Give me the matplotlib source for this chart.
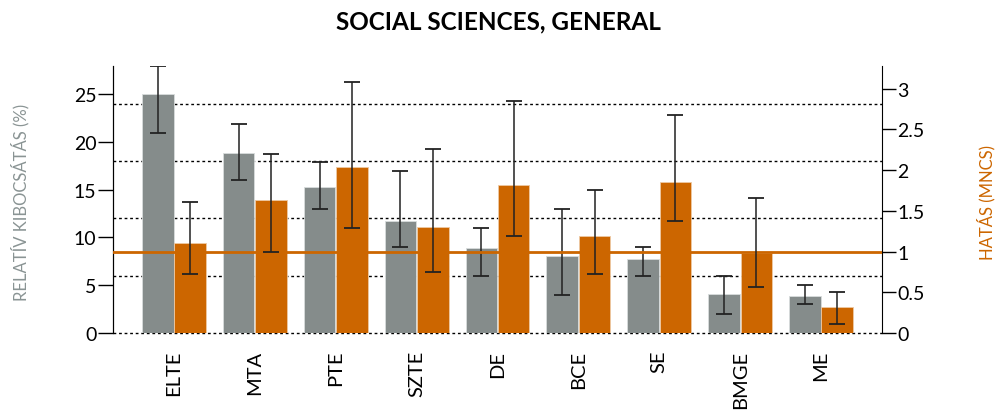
import numpy as np
import matplotlib.pyplot as plt

plt.rcParams['font.family'] = ['Lato', 'DejaVu Sans']

inst = ['ELTE', 'MTA', 'PTE', 'SZTE', 'DE', 'BCE', 'SE', 'BMGE', 'ME']
# relative output (%) with lower / upper bounds
rel = [25.0, 18.8, 15.3, 11.7, 8.9, 8.05, 7.75, 4.1, 3.9]
rel_lo = [20.9, 16.0, 12.95, 8.95, 5.95, 3.95, 5.95, 1.95, 3.0]
rel_hi = [27.9, 21.9, 17.9, 16.9, 10.95, 12.95, 8.95, 5.95, 5.0]
# impact (MNCS) with lower / upper bounds
mncs = [1.10, 1.63, 2.04, 1.30, 1.82, 1.19, 1.85, 0.98, 0.32]
mncs_lo = [0.72, 0.99, 1.29, 0.755, 1.195, 0.72, 1.37, 0.57, 0.11]
mncs_hi = [1.61, 2.20, 3.08, 2.26, 2.85, 1.76, 2.68, 1.66, 0.50]

grey = '#858c8b'
orange = '#cc6600'
x = np.arange(len(inst))
w = 0.39

fig = plt.figure(figsize=(9.98, 4.14), dpi=100)
ax = fig.add_axes([0.1132, 0.1932, 0.7706, 0.645])
ax2 = ax.twinx()

rel = np.array(rel)
mncs = np.array(mncs)
rel_err = [rel - np.array(rel_lo), np.array(rel_hi) - rel]
mncs_err = [mncs - np.array(mncs_lo), np.array(mncs_hi) - mncs]

for g in [0, 6, 12, 18, 24]:
    ax.axhline(g, color='black', lw=1, ls=(0, (2, 2)), zorder=0, clip_on=False)

ax.bar(x - 0.2, rel, w, color=grey, edgecolor='#d8dcdc', lw=0.6, zorder=2)
ax.errorbar(x - 0.2, rel, yerr=rel_err, fmt='none', ecolor='#222222',
            elinewidth=1.1, capsize=6, capthick=1.3, zorder=3)

ax2.bar(x + 0.2, mncs, w, color=orange, edgecolor='#eec9a4', lw=0.6, zorder=2)
ax2.axhline(1, color=orange, lw=2, zorder=3)
ax2.errorbar(x + 0.2, mncs, yerr=mncs_err, fmt='none', ecolor='#222222',
             elinewidth=1.1, capsize=6, capthick=1.3, zorder=4)

ax.set_xlim(-0.754, 8.754)
ax.set_ylim(0, 27.93)
ax2.set_ylim(0, 3.28)
ax.set_yticks([0, 5, 10, 15, 20, 25])
ax2.set_yticks([0, 0.5, 1, 1.5, 2, 2.5, 3])
ax2.set_yticklabels(['0', '0.5', '1', '1.5', '2', '2.5', '3'])
ax.set_xticks(x)
ax.set_xticklabels(inst, rotation=90, fontsize=14.5)
ax.tick_params(axis='x', length=0, pad=12)
ax.tick_params(axis='y', length=11, width=1, labelsize=14, pad=1)
ax2.tick_params(axis='y', length=10, width=1, labelsize=14, pad=1)

for a in (ax, ax2):
    a.spines['top'].set_visible(False)
    a.spines['bottom'].set_visible(False)
ax.spines['right'].set_visible(False)

fig.text(0.020, 0.51, 'RELATÍV KIBOCSÁTÁS (%)', color='#8a9494', fontsize=12,
         rotation=90, ha='center', va='center')
fig.text(0.988, 0.51, 'HATÁS (MNCS)', color=orange, fontsize=12,
         rotation=90, ha='center', va='center')

fig.suptitle('SOCIAL SCIENCES, GENERAL', fontsize=17.5, fontweight='bold',
             x=0.499, y=0.975)

fig.savefig('out.png', dpi=100)
